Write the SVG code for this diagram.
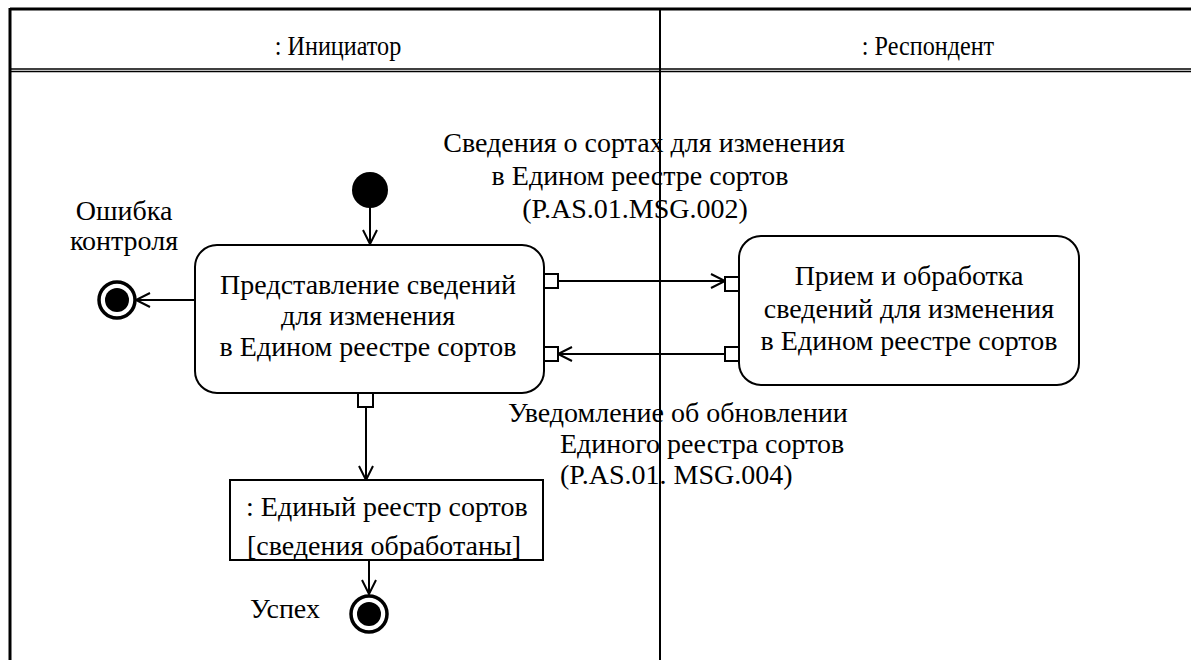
<svg xmlns="http://www.w3.org/2000/svg" width="1191" height="660" viewBox="0 0 1191 660">
<style>
.ln{stroke:#000;stroke-width:2;fill:none}
.box{stroke:#000;stroke-width:2;fill:#fff}
.pin{stroke:#000;stroke-width:2;fill:#fff}
</style>
<defs>
<marker id="arr" markerWidth="20" markerHeight="20" refX="16" refY="8" orient="auto" markerUnits="userSpaceOnUse">
<path d="M2,1 L16,8 L2,15" fill="none" stroke="#000" stroke-width="2"/>
</marker>
</defs>
<rect width="1191" height="660" fill="#fff"/>
<g id="frame">
<line x1="10" y1="9" x2="1191" y2="9" stroke="#000" stroke-width="3"/>
<line x1="10" y1="8" x2="10" y2="660" stroke="#000" stroke-width="3"/>
<line x1="10" y1="69" x2="1191" y2="69" stroke="#000" stroke-width="1.5"/>
<line x1="10" y1="71.5" x2="1191" y2="71.5" stroke="#000" stroke-width="1.5"/>
<line x1="660" y1="9" x2="660" y2="660" stroke="#000" stroke-width="2"/>
<text font-family="'Liberation Serif', serif" font-size="26" text-anchor="middle" transform="translate(338,55) scale(0.93,1.05)" x="0" y="0">: Инициатор</text>
<text font-family="'Liberation Serif', serif" font-size="26" text-anchor="middle" transform="translate(928,55) scale(0.93,1.05)" x="0" y="0">: Респондент</text>
</g>
<g id="connectors">
<line class="ln" x1="370" y1="206" x2="370" y2="244" marker-end="url(#arr)"/>
<line class="ln" x1="195" y1="300" x2="136" y2="300" marker-end="url(#arr)"/>
<line class="ln" x1="558" y1="281" x2="725" y2="281" marker-end="url(#arr)"/>
<line class="ln" x1="725" y1="354" x2="558" y2="354" marker-end="url(#arr)"/>
<line class="ln" x1="366" y1="408" x2="366" y2="480" marker-end="url(#arr)"/>
<line class="ln" x1="369" y1="560" x2="369" y2="594" marker-end="url(#arr)"/>
</g>
<g id="start">
<circle cx="370" cy="190" r="18" fill="#000"/>
</g>
<g id="end-error">
<circle cx="117" cy="300" r="18" fill="#fff" stroke="#000" stroke-width="3.5"/>
<circle cx="117" cy="300" r="12" fill="#000"/>
<text font-family="'Liberation Serif', serif" font-size="28" text-anchor="middle" x="124" y="220">Ошибка</text>
<text font-family="'Liberation Serif', serif" font-size="28" text-anchor="middle" x="124" y="250">контроля</text>
</g>
<g id="act-submit">
<rect class="box" x="195" y="245" width="349" height="148" rx="22"/>
<text font-family="'Liberation Serif', serif" font-size="28" text-anchor="middle" x="368" y="294">Представление сведений</text>
<text font-family="'Liberation Serif', serif" font-size="28" text-anchor="middle" x="368" y="325">для изменения</text>
<text font-family="'Liberation Serif', serif" font-size="28" text-anchor="middle" x="368" y="356">в Едином реестре сортов</text>
<rect class="pin" x="544" y="274" width="14" height="14"/>
<rect class="pin" x="544" y="347" width="14" height="14"/>
<rect class="pin" x="358" y="393" width="15" height="14"/>
</g>
<g id="act-receive">
<rect class="box" x="739" y="236" width="340" height="149" rx="22"/>
<text font-family="'Liberation Serif', serif" font-size="28" text-anchor="middle" x="909" y="285">Прием и обработка</text>
<text font-family="'Liberation Serif', serif" font-size="28" text-anchor="middle" x="909" y="318">сведений для изменения</text>
<text font-family="'Liberation Serif', serif" font-size="28" text-anchor="middle" x="909" y="350">в Едином реестре сортов</text>
<rect class="pin" x="725" y="277" width="14" height="14"/>
<rect class="pin" x="725" y="347" width="14" height="14"/>
</g>
<g id="msg1">
<text font-family="'Liberation Serif', serif" font-size="28" text-anchor="middle" x="644" y="152">Сведения о сортах для изменения</text>
<text font-family="'Liberation Serif', serif" font-size="28" text-anchor="middle" x="640" y="185">в Едином реестре сортов</text>
<text font-family="'Liberation Serif', serif" font-size="28" text-anchor="middle" x="635" y="218">(P.AS.01.MSG.002)</text>
</g>
<g id="msg2">
<text font-family="'Liberation Serif', serif" font-size="28" x="508" y="422">Уведомление об обновлении</text>
<text font-family="'Liberation Serif', serif" font-size="28" x="560" y="453">Единого реестра сортов</text>
<text font-family="'Liberation Serif', serif" font-size="28" x="560" y="484">(P.AS.01. MSG.004)</text>
</g>
<g id="obj-registry">
<rect class="box" x="230" y="480" width="313" height="80"/>
<text font-family="'Liberation Serif', serif" font-size="28" x="246" y="516">: Единый реестр сортов</text>
<text font-family="'Liberation Serif', serif" font-size="28" x="247" y="555">[сведения обработаны]</text>
</g>
<g id="end-success">
<circle cx="369" cy="614" r="18" fill="#fff" stroke="#000" stroke-width="3.5"/>
<circle cx="369" cy="614" r="12" fill="#000"/>
<text font-family="'Liberation Serif', serif" font-size="28" x="250" y="618">Успех</text>
</g>
</svg>
